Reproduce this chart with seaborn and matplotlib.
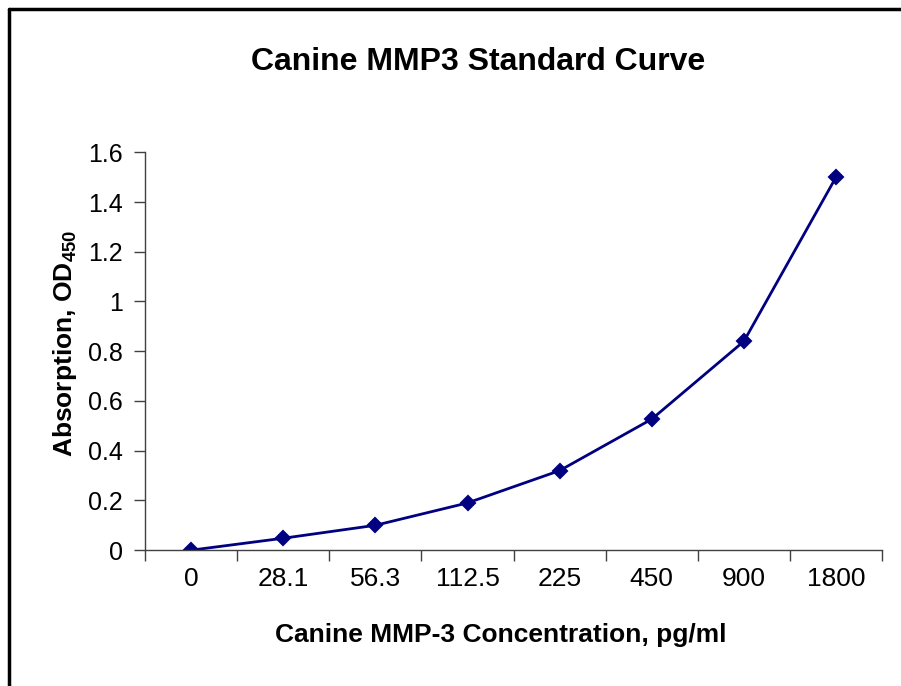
import matplotlib
matplotlib.use("Agg")
import matplotlib.pyplot as plt
import seaborn as sns
from matplotlib.lines import Line2D

# data
concentrations = ["0", "28.1", "56.3", "112.5", "225", "450", "900", "1800"]
absorbance = [0.0, 0.048, 0.10, 0.19, 0.32, 0.527, 0.84, 1.50]
y_ticks = [0, 0.2, 0.4, 0.6, 0.8, 1, 1.2, 1.4, 1.6]
y_tick_labels = ["0", "0.2", "0.4", "0.6", "0.8", "1", "1.2", "1.4", "1.6"]

sns.set_style("white")
plt.rcParams["font.family"] = ["Liberation Sans", "DejaVu Sans"]
plt.rcParams["mathtext.fontset"] = "custom"
plt.rcParams["mathtext.bf"] = "Liberation Sans:bold"
plt.rcParams["mathtext.rm"] = "Liberation Sans"
plt.rcParams["text.color"] = "black"
plt.rcParams["axes.labelcolor"] = "black"

line_color = "#000080"
axis_color = "#404040"

fig = plt.figure(figsize=(9.01, 6.86), dpi=100)
ax = fig.add_axes([0.161, 0.198, 0.818, 0.58])

sns.pointplot(
    x=concentrations,
    y=absorbance,
    order=concentrations,
    color=line_color,
    markers="D",
    markersize=7,
    linewidth=2,
    ax=ax,
)

ax.set_xlim(-0.5, len(concentrations) - 0.5)
ax.set_ylim(0, 1.6)
ax.set_yticks(y_ticks)
ax.set_yticklabels(y_tick_labels)

# category labels at centres, tick marks between categories
ax.set_xticks(range(len(concentrations)))
ax.set_xticklabels(concentrations)
ax.set_xticks([i - 0.5 for i in range(len(concentrations) + 1)], minor=True)
ax.tick_params(axis="x", which="major", length=0, pad=12, labelsize=19, labelcolor="black")
ax.tick_params(axis="x", which="minor", length=8, width=1, color=axis_color, direction="out", bottom=True)
ax.tick_params(axis="y", length=8, width=1, color=axis_color, direction="out", left=True, pad=8,
               labelsize=18, labelcolor="black")

sns.despine(ax=ax, top=True, right=True)
for side in ["left", "bottom"]:
    ax.spines[side].set_color(axis_color)
    ax.spines[side].set_linewidth(1)

ax.set_xlabel("Canine MMP-3 Concentration, pg/ml", fontsize=19, fontweight="bold")
ax.xaxis.set_label_coords(0.483, -0.183)
ax.set_ylabel(r"Absorption, OD$_{\mathbf{450}}$", fontsize=19, fontweight="bold")
ax.yaxis.set_label_coords(-0.09, 0.52)
fig.text(0.5305, 0.909, "Canine MMP3 Standard Curve", ha="center", va="center",
         fontsize=23, fontweight="bold")
ax.grid(False)

# chart frame (top and left edges visible)
fig.add_artist(Line2D([0.0105, 1.0], [0.9875, 0.9875], color="black", lw=2.5, transform=fig.transFigure))
fig.add_artist(Line2D([0.0105, 0.0105], [0.0, 0.9875], color="black", lw=2.5, transform=fig.transFigure))

fig.savefig("out.png", dpi=100)
